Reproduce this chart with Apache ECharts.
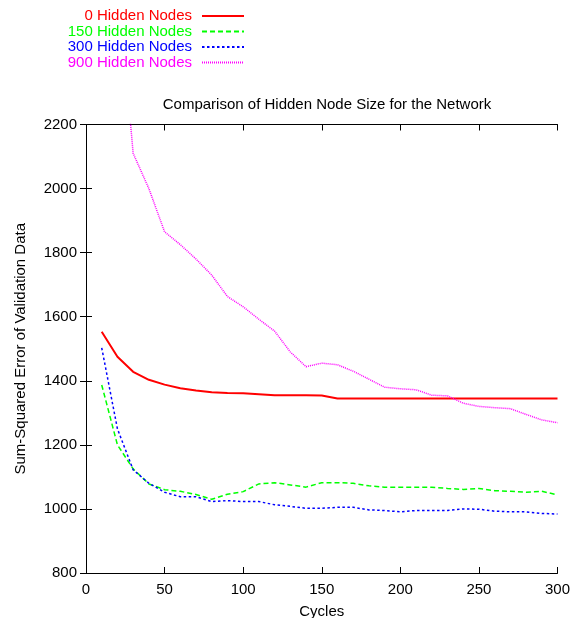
<!DOCTYPE html>
<html><head><meta charset="utf-8">
<script src="https://cdn.jsdelivr.net/npm/echarts@6/dist/echarts.min.js"></script>
<style>html,body{margin:0;padding:0;background:#fff}#c{width:571px;height:618px}</style>
</head><body><div id="c"></div>
<script>
const cycles = [10,20,30,40,50,60,70,80,90,100,110,120,130,140,150,160,170,180,190,200,210,220,230,240,250,260,270,280,290,300];
const nodes0   = [1553,1475,1428,1403,1388,1377,1370,1364,1362,1361,1358,1355,1355,1355,1354,1345,1345,1345,1345,1345,1345,1345,1345,1345,1345,1345,1345,1345,1345,1345];
const nodes150 = [1387,1200,1125,1078,1060,1055,1045,1030,1046,1054,1078,1082,1075,1068,1082,1082,1080,1072,1068,1068,1068,1068,1064,1061,1064,1057,1055,1052,1055,1044];
const nodes300 = [1503,1250,1122,1080,1052,1038,1038,1023,1026,1023,1023,1013,1008,1002,1002,1005,1005,997,995,991,995,995,995,1000,999,993,991,991,986,984];
const nodes900 = [3200,2670,2110,2000,1865,1825,1780,1730,1663,1631,1592,1555,1490,1444,1455,1450,1430,1405,1380,1375,1372,1355,1353,1330,1320,1316,1313,1295,1278,1269];
const seriesNames = ['0 Hidden Nodes','150 Hidden Nodes','300 Hidden Nodes','900 Hidden Nodes'];
const xTicks = [0,50,100,150,200,250,300];
const yTicks = [800,1000,1200,1400,1600,1800,2000,2200];

const colors = ['#ff0000','#00ff00','#0000ff','#ff00ff'];
const styles = [
  {width:2, type:'solid'},
  {width:1.5, type:[5,3]},
  {width:1.5, type:[2.5,2.5]},
  {width:1.5, type:[1,1]}
];
const allData = [nodes0,nodes150,nodes300,nodes900];
const font = 'Liberation Sans';
const fs = 15;

const chart = echarts.init(document.getElementById('c'));
const legends = seriesNames.map((n,i)=>({
  data:[n], orient:'horizontal', align:'right', right:326, top:8.5+i*15.5,
  itemWidth:42, itemHeight:14, itemGap:0, padding:0,
  itemStyle:{opacity:0},
  textStyle:{color:colors[i], fontFamily:font, fontSize:fs, padding:[0,5,0,0]}
}));
const tick = {show:true, inside:true, length:6, lineStyle:{color:'#000'}};
chart.setOption({
  animation:false,
  title:{text:'Comparison of Hidden Node Size for the Network', left:322, textAlign:'center', top:92,
    textStyle:{fontFamily:font, fontSize:fs, fontWeight:'normal', color:'#000'}},
  legend:legends,
  grid:{left:86, right:13.5, top:124.5, bottom:45, containLabel:false, outerBoundsMode:'none'},
  xAxis:[
    {type:'value', min:0, max:300, interval:50, position:'bottom',
      axisLine:{show:true, lineStyle:{color:'#000'}}, axisTick:tick, splitLine:{show:false},
      name:'Cycles', nameLocation:'middle', nameGap:31,
      nameTextStyle:{fontFamily:font, fontSize:fs, color:'#000'},
      axisLabel:{fontFamily:font, fontSize:fs, color:'#000', margin:9, formatter:v=>xTicks.includes(v)?String(v):''}},
    {type:'value', min:0, max:300, interval:50, position:'top',
      axisLine:{show:true, lineStyle:{color:'#000'}}, axisTick:tick, splitLine:{show:false}, axisLabel:{show:false}}
  ],
  yAxis:[
    {type:'value', min:800, max:2200, interval:200, position:'left',
      axisLine:{show:true, lineStyle:{color:'#000'}}, axisTick:tick, splitLine:{show:false},
      name:'Sum-Squared Error of Validation Data', nameLocation:'middle', nameGap:58, nameRotate:90,
      nameTextStyle:{fontFamily:font, fontSize:fs, color:'#000'},
      axisLabel:{fontFamily:font, fontSize:fs, color:'#000', margin:9, formatter:v=>yTicks.includes(v)?String(v):''}},
    {type:'value', min:800, max:2200, interval:200, position:'right',
      axisLine:{show:true, lineStyle:{color:'#000'}}, axisTick:tick, splitLine:{show:false}, axisLabel:{show:false}}
  ],
  series: seriesNames.map((n,i)=>({
    name:n, type:'line', showSymbol:false, symbol:'none', clip:true,
    data: cycles.map((c,j)=>[c, allData[i][j]]),
    lineStyle:{color:colors[i], width:styles[i].width, type:styles[i].type},
    itemStyle:{color:colors[i]},
    emphasis:{disabled:true}
  }))
});
</script></body></html>
